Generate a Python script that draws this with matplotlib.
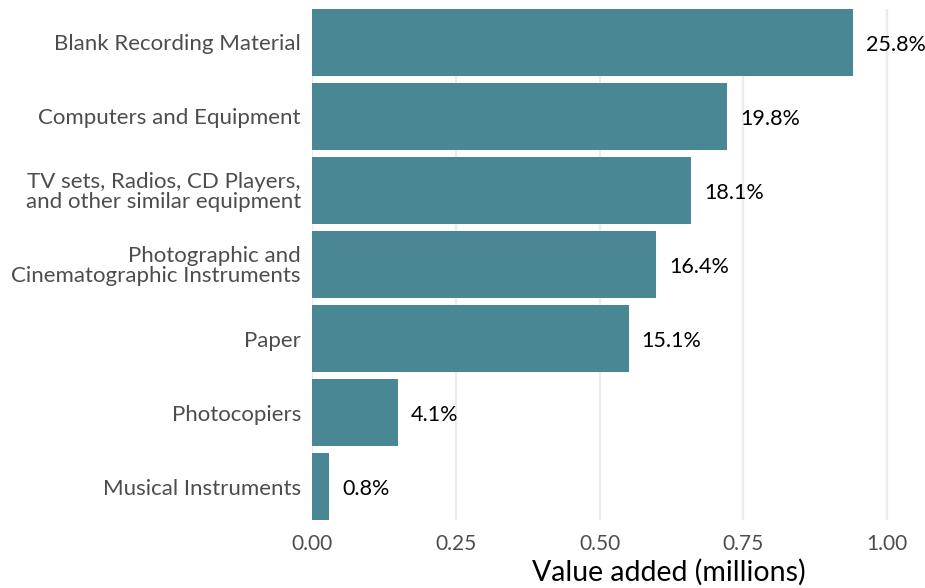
import matplotlib.pyplot as plt

plt.rcParams['font.family'] = ['Lato', 'DejaVu Sans']

# categories, top to bottom
categories = [
    'Blank Recording Material',
    'Computers and Equipment',
    'TV sets, Radios, CD Players,\nand other similar equipment',
    'Photographic and\nCinematographic Instruments',
    'Paper',
    'Photocopiers',
    'Musical Instruments',
]
# share of total value added, in percent
shares = [25.8, 19.8, 18.1, 16.4, 15.1, 4.1, 0.8]
total_value = 3.645  # millions

values = [s / 100 * total_value for s in shares]

fig = plt.figure(figsize=(9.25, 5.88), dpi=100)
ax = fig.add_axes([312 / 925, 68 / 588, 613 / 925, 511 / 588])

ypos = list(range(len(categories)))[::-1]
ax.barh(ypos, values, height=0.9, color='#4a8794', zorder=2)

for y, v, s in zip(ypos, values, shares):
    ax.text(v + 0.023, y - 0.03, f'{s:.1f}%', va='center', ha='left',
            fontsize=15.5, color='black')

ax.set_yticks(ypos)
ax.set_yticklabels(categories, linespacing=1.0, fontsize=16)
ax.set_xticks([0, 0.25, 0.5, 0.75, 1.0])
ax.set_xticklabels(['0.00', '0.25', '0.50', '0.75', '1.00'], fontsize=15)
ax.set_xlim(0, 1.066)
ax.set_ylim(-0.45, len(categories) - 0.55)

ax.tick_params(axis='both', length=0, labelcolor='#4d4d4d')
ax.tick_params(axis='y', pad=8)
ax.tick_params(axis='x', pad=10)
ax.grid(axis='x', color='#ebebeb', linewidth=1.6, zorder=0)
for side in ax.spines.values():
    side.set_visible(False)

ax.set_xlabel('Value added (millions)', fontsize=20.5, color='black', va='center')
ax.xaxis.set_label_coords((669 - 312) / 613, -0.102)

fig.savefig('out.png', dpi=100)
